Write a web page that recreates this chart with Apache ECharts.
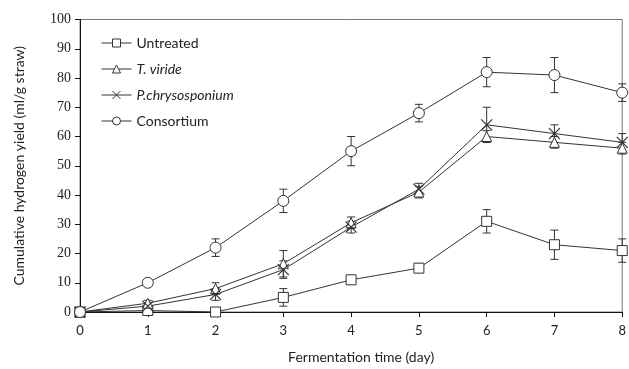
<!DOCTYPE html>
<html lang="en">
<head>
    <meta charset="UTF-8">
    <title>Cumulative hydrogen yield</title>
    <script src="https://cdn.jsdelivr.net/npm/echarts@6/dist/echarts.min.js"></script>
</head>
<body style="margin:0">
<div id="container" style="width:629px;height:369px"></div>
<script type="text/javascript">
    var days = [0, 1, 2, 3, 4, 5, 6, 7, 8];
    var untreated = [0, 0.5, 0, 5, 11, 15, 31, 23, 21];
    var untreatedErr = [0.5, 1, 0.5, 3, 1, 1.5, 4, 5, 4];
    var tViride = [0, 3, 8, 16.5, 30.5, 41, 60, 58, 56];
    var tViridiErr = [0.5, 1, 2, 4.5, 2, 2, 2, 2, 2];
    var pChry = [0, 2, 6, 14.5, 29, 42, 64, 61, 58];
    var pChryErr = [0.5, 1, 2, 3, 2, 2, 6, 3, 3];
    var consortium = [0, 10, 22, 38, 55, 68, 82, 81, 75];
    var consortiumErr = [0.5, 1, 3, 4, 5, 3, 5, 6, 3];

    var ink = '#333';

    function pairs(ys) {
        return days.map(function (d, i) { return [d, ys[i]]; });
    }

    function lineSeries(name, ys, symbol, size) {
        return {
            name: name,
            type: 'line',
            data: pairs(ys),
            symbol: symbol,
            symbolSize: size,
            z: 3,
            lineStyle: {color: ink, width: 1},
            itemStyle: {color: '#fff', borderColor: ink, borderWidth: 1}
        };
    }

    function errSeries(ys, errs) {
        return {
            type: 'custom',
            z: 2,
            silent: true,
            data: days.map(function (d, i) { return [d, ys[i] - errs[i], ys[i] + errs[i]]; }),
            renderItem: function (params, api) {
                var lo = api.coord([api.value(0), api.value(1)]);
                var hi = api.coord([api.value(0), api.value(2)]);
                var w = 4;
                var st = {stroke: ink, lineWidth: 1};
                return {
                    type: 'group',
                    children: [
                        {type: 'line', shape: {x1: lo[0], y1: lo[1], x2: hi[0], y2: hi[1]}, style: st},
                        {type: 'line', shape: {x1: lo[0] - w, y1: lo[1], x2: lo[0] + w, y2: lo[1]}, style: st},
                        {type: 'line', shape: {x1: hi[0] - w, y1: hi[1], x2: hi[0] + w, y2: hi[1]}, style: st}
                    ]
                };
            }
        };
    }

    var cross = 'path://M0,0L10,10M10,0L0,10';
    var chrySeries = lineSeries('P.chrysosponium', pChry, cross, 11);
    chrySeries.itemStyle = {color: 'transparent', borderColor: ink, borderWidth: 1.2};

    var option = {
        animation: false,
        grid: {left: 80, right: 6, top: 19.5, bottom: 55, show: true, borderColor: '#777', borderWidth: 1},
        legend: {
            orient: 'vertical',
            left: 96,
            top: 31,
            itemWidth: 30,
            itemHeight: 10,
            itemGap: 12,
            lineStyle: {width: 1},
            itemStyle: {borderWidth: 1},
            textStyle: {fontFamily: 'Lato', fontSize: 14, color: '#222',
                rich: {it: {fontFamily: 'Lato', fontSize: 14, fontStyle: 'italic', color: '#222'}}},
            formatter: function (name) {
                if (name === 'T. viride' || name === 'P.chrysosponium') return '{it|' + name + '}';
                return name;
            },
            data: ['Untreated', 'T. viride', 'P.chrysosponium', 'Consortium']
        },
        xAxis: {
            type: 'value',
            min: 0,
            max: 8,
            interval: 1,
            name: 'Fermentation time (day)',
            nameLocation: 'middle',
            nameGap: 38,
            nameTextStyle: {fontFamily: 'Lato', fontSize: 14, color: '#222', padding: [0, 0, 0, 20]},
            axisLine: {lineStyle: {color: '#111'}},
            axisTick: {lineStyle: {color: '#111'}, length: 5},
            axisLabel: {fontFamily: 'Lato', fontSize: 13, color: '#222', margin: 12},
            splitLine: {show: false}
        },
        yAxis: {
            type: 'value',
            min: 0,
            max: 100,
            interval: 10,
            name: 'Cumulative hydrogen yield (ml/g straw)',
            nameLocation: 'middle',
            nameGap: 54,
            nameTextStyle: {fontFamily: 'Lato', fontSize: 14, color: '#222'},
            axisLine: {show: true, lineStyle: {color: '#111'}},
            axisTick: {show: true, lineStyle: {color: '#111'}, length: 5},
            axisLabel: {fontFamily: 'Liberation Serif', fontSize: 14, color: '#222', margin: 9},
            splitLine: {show: false}
        },
        series: [
            errSeries(untreated, untreatedErr),
            errSeries(tViride, tViridiErr),
            errSeries(pChry, pChryErr),
            errSeries(consortium, consortiumErr),
            lineSeries('Untreated', untreated, 'rect', 10),
            lineSeries('T. viride', tViride, 'triangle', 10),
            chrySeries,
            lineSeries('Consortium', consortium, 'circle', 11)
        ]
    };

    var myChart = echarts.init(document.getElementById('container'));
    myChart.setOption(option);
</script>
</body>
</html>
